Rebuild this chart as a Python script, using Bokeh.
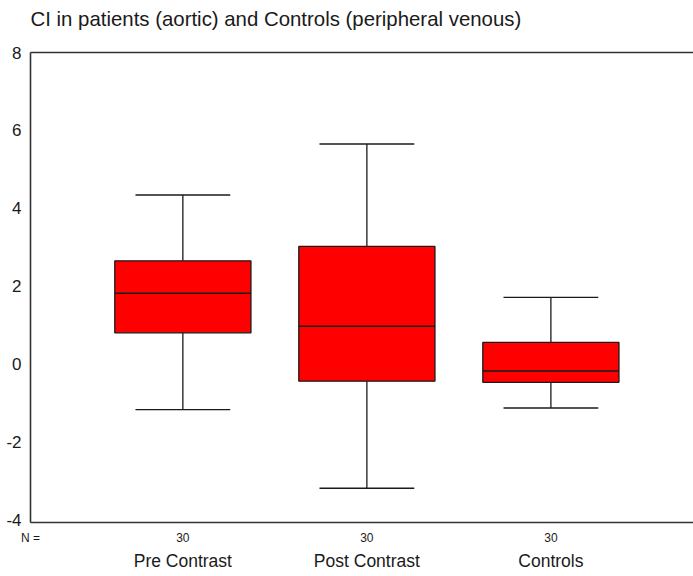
from bokeh.plotting import figure
from bokeh.models import Range1d, LinearAxis, FixedTicker
from bokeh.embed import file_html
from bokeh.resources import INLINE

# ---- data ----
groups = ["Pre Contrast", "Post Contrast", "Controls"]
n_counts = [30, 30, 30]
whisker_low = [-1.17, -3.19, -1.13]
q1 = [0.80, -0.44, -0.47]
median = [1.82, 0.97, -0.18]
q3 = [2.65, 3.02, 0.555]
whisker_high = [4.34, 5.65, 1.71]
y_ticks = [-4, -2, 0, 2, 4, 6, 8]
title_text = "CI in patients (aortic) and Controls (peripheral venous)"

# ---- styling ----
FONT = "Liberation Sans"
RED = "#ff0000"
LINE = "#1a1a1a"
FRAME = "#333333"
TXT = "#1a1a1a"
box_w = 0.74
cap_w = 0.515

xpos = [i + 1 for i in range(len(groups))]
x_start, x_end = 0.172, 3.775
y_start, y_end = -4.07, 8.0

p = figure(width=693, height=576,
           x_range=Range1d(x_start, x_end), y_range=Range1d(y_start, y_end),
           output_backend="svg", toolbar_location=None,
           x_axis_location=None, y_axis_location=None,
           min_border_left=30, min_border_right=0,
           min_border_top=52, min_border_bottom=54)
p.outline_line_color = None
p.xgrid.visible = False
p.ygrid.visible = False
p.background_fill_color = "white"
p.border_fill_color = "white"

p.title.text = title_text
p.title.text_font = FONT
p.title.text_font_size = "20.4px"
p.title.text_font_style = "normal"
p.title.text_color = TXT
p.title.align = "left"
p.title.standoff = 4

# y axis
yax = LinearAxis(ticker=FixedTicker(ticks=y_ticks))
yax.major_label_overrides = {t: str(t) for t in y_ticks}
yax.major_tick_line_color = None
yax.minor_tick_line_color = None
yax.major_tick_out = 0
yax.major_tick_in = 0
yax.minor_tick_out = 0
yax.axis_line_color = FRAME
yax.axis_line_width = 1.6
yax.major_label_text_font = FONT
yax.major_label_text_font_size = "17px"
yax.major_label_text_color = TXT
yax.major_label_standoff = 9
p.add_layout(yax, "left")

# top frame line; an invisible tick gives spacing between title and frame
top = LinearAxis(ticker=FixedTicker(ticks=[xpos[0]]))
top.major_label_overrides = {xpos[0]: ""}
top.major_label_text_font_size = "1px"
top.major_label_text_color = None
top.axis_line_color = FRAME
top.axis_line_width = 1.6
top.major_tick_line_color = None
top.minor_tick_line_color = None
top.major_tick_out = 21
top.major_tick_in = 0
top.minor_tick_out = 0
top.major_label_standoff = 0
p.add_layout(top, "above")

# N axis (bottom frame line)
nax = LinearAxis(ticker=FixedTicker(ticks=[x_start] + xpos))
overrides = {x_start: "N ="}
for x, n in zip(xpos, n_counts):
    overrides[x] = str(n)
nax.major_label_overrides = overrides
nax.axis_line_color = FRAME
nax.axis_line_width = 1.6
nax.major_tick_line_color = None
nax.minor_tick_line_color = None
nax.major_tick_out = 0
nax.major_tick_in = 0
nax.minor_tick_out = 0
nax.major_label_text_font = FONT
nax.major_label_text_font_size = "12px"
nax.major_label_text_color = TXT
nax.major_label_standoff = 8
p.add_layout(nax, "below")

# group names axis
gax = LinearAxis(ticker=FixedTicker(ticks=xpos))
gax.major_label_overrides = {x: g for x, g in zip(xpos, groups)}
gax.axis_line_color = None
gax.major_tick_line_color = None
gax.minor_tick_line_color = None
gax.major_tick_out = 0
gax.major_tick_in = 0
gax.minor_tick_out = 0
gax.major_label_text_font = FONT
gax.major_label_text_font_size = "17.5px"
gax.major_label_text_color = TXT
gax.major_label_standoff = 3
p.add_layout(gax, "below")

# whiskers
p.segment(x0=xpos, y0=q3, x1=xpos, y1=whisker_high, line_color=LINE, line_width=1.3)
p.segment(x0=xpos, y0=q1, x1=xpos, y1=whisker_low, line_color=LINE, line_width=1.3)
p.segment(x0=[x - cap_w / 2 for x in xpos], y0=whisker_high,
          x1=[x + cap_w / 2 for x in xpos], y1=whisker_high, line_color=LINE, line_width=1.3)
p.segment(x0=[x - cap_w / 2 for x in xpos], y0=whisker_low,
          x1=[x + cap_w / 2 for x in xpos], y1=whisker_low, line_color=LINE, line_width=1.3)
# boxes
p.vbar(x=xpos, width=box_w, bottom=q1, top=q3, fill_color=RED, line_color=LINE, line_width=1.3)
# medians
p.segment(x0=[x - box_w / 2 for x in xpos], y0=median,
          x1=[x + box_w / 2 for x in xpos], y1=median, line_color=LINE, line_width=1.5)

open("out.html", "w").write(file_html(p, INLINE))
